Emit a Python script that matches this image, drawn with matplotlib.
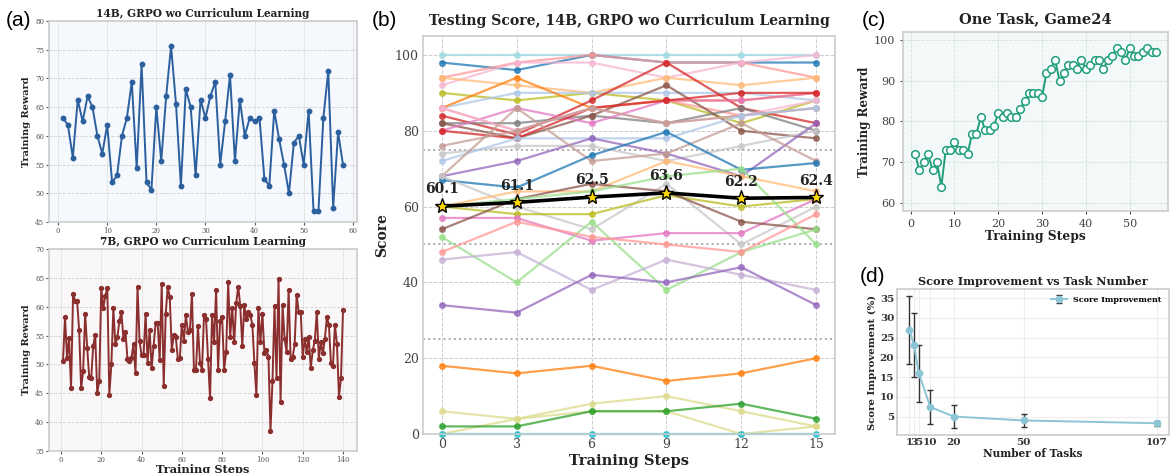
import numpy as np
import matplotlib.pyplot as plt

W, H = 1170, 473

# ---- panel (a) data ----
steps_14b = np.arange(1, 59)
reward_14b = [63.1, 61.9, 56.2, 66.3, 62.5, 66.9, 65.0, 60.0, 56.9, 61.9,
              51.9, 53.1, 60.0, 63.1, 69.4, 54.4, 72.5, 51.9, 50.6, 65.0,
              55.6, 66.9, 75.6, 65.6, 51.3, 68.1, 65.0, 53.1, 66.3, 63.1,
              66.9, 69.4, 55.0, 62.5, 70.6, 55.6, 66.3, 60.0, 63.1, 62.5,
              63.1, 52.5, 51.3, 64.4, 59.4, 55.0, 50.0, 58.8, 60.0, 55.0,
              64.4, 46.9, 46.9, 63.1, 71.3, 47.5, 60.6, 55.0]

steps_7b = np.arange(1, 141)
reward_7b = [50.6, 58.2, 51.2, 54.5, 45.9, 62.2, 61.0, 61.0, 56.0, 45.9,
             48.8, 58.8, 52.9, 47.9, 47.6, 53.2, 55.1, 45.0, 47.2, 63.2,
             59.7, 61.9, 63.2, 44.7, 50.0, 59.7, 53.5, 54.7, 57.6, 59.1,
             54.4, 55.7, 51.0, 50.6, 51.2, 53.5, 48.5, 63.5, 54.1, 51.6,
             51.6, 58.8, 50.3, 56.0, 49.4, 53.2, 57.2, 57.2, 50.7, 63.9,
             46.3, 58.8, 63.5, 61.6, 52.5, 55.1, 54.7, 51.0, 51.2, 56.9,
             54.1, 58.5, 55.7, 56.0, 62.2, 49.1, 49.1, 56.6, 50.3, 49.1,
             58.5, 57.9, 51.0, 44.1, 58.5, 53.8, 62.9, 49.1, 57.6, 58.2,
             49.1, 52.2, 64.2, 54.7, 59.8, 53.8, 60.7, 63.5, 60.1, 53.2,
             60.3, 57.9, 59.1, 58.5, 56.9, 50.3, 44.7, 59.8, 53.8, 58.8,
             51.9, 52.5, 51.3, 38.5, 47.2, 60.1, 47.6, 64.8, 43.5, 60.3,
             54.4, 52.2, 62.9, 51.0, 51.3, 53.5, 62.0, 59.1, 59.1, 51.3,
             54.4, 52.2, 54.7, 49.4, 52.5, 54.1, 59.1, 51.0, 53.8, 51.9,
             54.4, 58.2, 56.9, 50.3, 49.7, 56.9, 53.5, 44.4, 47.6, 59.4]

# ---- panel (b) data ----
test_steps = [0, 3, 6, 9, 12, 15]
task_colors = ["lcyan", "blue", "lred", "lpink", "olive", "lorange", "lblue",
               "orange", "lred", "red", "gray", "brown", "pink", "red",
               "lpink", "lbrown", "lgray", "lblue", "purple", "lbrown", "blue",
               "lgray", "lorange", "olive", "pink", "brown", "lgreen",
               "lgreen", "lred", "lpurple", "purple", "orange", "lolive",
               "lolive", "green", "cyan"]
task_scores = [
    [100, 100, 100, 100, 100, 100],
    [98, 96, 100, 98, 98, 98],
    [94, 98, 100, 98, 98, 94],
    [92, 98, 98, 94, 98, 100],
    [90, 88, 90, 88, 82, 88],
    [94, 92, 90, 94, 92, 94],
    [86, 90, 90, 90, 90, 88],
    [86, 94, 86, 88, 88, 90],
    [86, 80, 86, 88, 84, 86],
    [84, 79, 88, 98, 86, 82],
    [82, 82, 84, 82, 86, 80],
    [82, 78, 84, 92, 80, 78],
    [80, 86, 82, 88, 88, 90],
    [80, 78, 86, 88, 90, 90],
    [86, 80, 86, 82, 84, 88],
    [76, 80, 86, 82, 84, 86],
    [74, 76, 76, 72, 76, 80],
    [72, 78, 78, 78, 84, 86],
    [68, 72, 78, 74, 68, 82],
    [68, 86, 72, 74, 82, 72],
    [67, 65, 73.5, 79.7, 69.7, 71.5],
    [68, 60, 54, 66, 50, 60],
    [60, 64, 64, 72, 68, 64],
    [60, 58, 58, 63, 60, 62],
    [57, 57, 51, 53, 53, 62],
    [54, 62, 66, 64, 56, 54],
    [52, 40, 56, 38, 48, 54],
    [60, 62, 64, 68, 70, 50],
    [48, 56, 52, 50, 48, 58],
    [46, 48, 38, 46, 42, 38],
    [34, 32, 42, 40, 44, 34],
    [18, 16, 18, 14, 16, 20],
    [6, 4, 8, 10, 6, 2],
    [0, 4, 6, 6, 0, 2],
    [2, 2, 6, 6, 8, 4],
    [0, 0, 0, 0, 0, 0],
]
mean_scores = [60.1, 61.1, 62.5, 63.6, 62.2, 62.4]

tab20 = {"blue": "#1f77b4", "lblue": "#aec7e8", "orange": "#ff7f0e",
         "lorange": "#ffbb78", "green": "#2ca02c", "lgreen": "#98df8a",
         "red": "#d62728", "lred": "#ff9896", "purple": "#9467bd",
         "lpurple": "#c5b0d5", "brown": "#8c564b", "lbrown": "#c49c94",
         "pink": "#e377c2", "lpink": "#f7b6d2", "gray": "#7f7f7f",
         "lgray": "#c7c7c7", "olive": "#bcbd22", "lolive": "#dbdb8d",
         "cyan": "#17becf", "lcyan": "#9edae5"}

# ---- panel (c) data ----
game24_steps = np.arange(1, 57)
game24_reward = [72, 68, 70, 72, 68, 70, 64, 73, 73, 75, 73, 73, 72, 77, 77,
                 81, 78, 78, 79, 82, 81, 82, 81, 81, 83, 85, 87, 87, 87, 86,
                 92, 93, 95, 90, 92, 94, 94, 93, 95, 93, 94, 95, 95, 93, 95,
                 96, 98, 97, 95, 98, 96, 96, 97, 98, 97, 97]

# ---- panel (d) data ----
n_tasks = [1, 3, 5, 10, 20, 50, 107]
improvement = [27.0, 23.1, 16.0, 7.4, 5.0, 4.0, 3.3]
improvement_err = [8.6, 8.1, 7.2, 4.2, 3.0, 1.6, 0.6]

plt.rcParams['font.family'] = 'DejaVu Serif'
serif_bold = dict(fontweight='bold', color='#222222')


def px_axes(fig, l, t, r, b):
    return fig.add_axes([l / W, 1 - b / H, (r - l) / W, (b - t) / H])


def style_spines(ax, color='#cccccc', lw=1.2):
    for s in ax.spines.values():
        s.set_color(color)
        s.set_linewidth(lw)


fig = plt.figure(figsize=(W / 100, H / 100), dpi=100)

# ---------- (a) top ----------
ax1 = px_axes(fig, 49, 21, 357, 222)
ax1.set_facecolor('#f5f8fc')
ax1.plot(steps_14b, reward_14b, color='#2b5f9e', lw=1.4, marker='o', ms=3.2)
ax1.set_ylim(45, 80)
ax1.set_yticks(range(45, 81, 5))
ax1.set_xticks(range(0, 61, 10))
ax1.grid(True, axis='y', ls='--', color='#d0d0d0', lw=0.6)
ax1.grid(True, axis='x', ls='-', color='#e2e2e2', lw=0.6)
ax1.tick_params(labelsize=5, colors='#555555', length=2, pad=1.5)
ax1.set_title("14B, GRPO wo Curriculum Learning", fontsize=7.6, pad=3, **serif_bold)
ax1.set_ylabel("Training Reward", fontsize=7, labelpad=3, **serif_bold)
style_spines(ax1)

# ---------- (a) bottom ----------
ax2 = px_axes(fig, 49, 249, 357, 451)
ax2.set_facecolor('#faf7f8')
ax2.plot(steps_7b, reward_7b, color='#8b2e2e', lw=1.4, marker='o', ms=2.8)
ax2.set_ylim(35, 70)
ax2.set_yticks(range(35, 71, 5))
ax2.set_xticks(range(0, 141, 20))
ax2.grid(True, axis='y', ls='--', color='#d0d0d0', lw=0.6)
ax2.grid(True, axis='x', ls='-', color='#e2e2e2', lw=0.6)
ax2.tick_params(labelsize=5, colors='#555555', length=2, pad=1.5)
ax2.set_title("7B, GRPO wo Curriculum Learning", fontsize=7.6, pad=3, **serif_bold)
ax2.set_ylabel("Training Reward", fontsize=7, labelpad=3, **serif_bold)
ax2.set_xlabel("Training Steps", fontsize=8.2, labelpad=0, **serif_bold)
style_spines(ax2)

# ---------- (b) ----------
ax3 = px_axes(fig, 423, 36, 835, 434)
for cname, vals in zip(task_colors, task_scores):
    ax3.plot(test_steps, vals, color=tab20[cname], lw=1.6, alpha=0.75,
             marker='o', ms=4, clip_on=False)
for yv in (25, 50, 75):
    ax3.axhline(yv, color='#aaaaaa', ls=':', lw=1.4, zorder=1)
ax3.plot(test_steps, mean_scores, color='black', lw=2.6, marker='*', ms=11,
         mfc='#ffd700', mec='black', mew=1.0, zorder=10)
for xs, m in zip(test_steps, mean_scores):
    ax3.annotate(f"{m:.1f}", (xs, m), xytext=(0, 7), textcoords='offset points',
                 ha='center', va='bottom', fontsize=10, zorder=11, **serif_bold)
ax3.set_xlim(-0.75, 15.75)
ax3.set_ylim(0, 105)
ax3.set_xticks(test_steps)
ax3.set_yticks(range(0, 101, 20))
ax3.grid(True, ls='--', color='#cccccc', lw=0.7)
ax3.set_axisbelow(True)
ax3.tick_params(labelsize=9, colors='#444444', length=0, pad=3)
ax3.set_title("Testing Score, 14B, GRPO wo Curriculum Learning", fontsize=10.1,
              pad=8, **serif_bold)
ax3.set_ylabel("Score", fontsize=10, **serif_bold)
ax3.set_xlabel("Training Steps", fontsize=10.5, labelpad=2, **serif_bold)
style_spines(ax3)

# ---------- (c) ----------
ax4 = px_axes(fig, 903, 32, 1168, 211)
ax4.set_facecolor('#f3f9f9')
ax4.plot(game24_steps, game24_reward, color='#1f9e7a', lw=1.4, marker='o',
         ms=5.5, mfc='white', mec='#1f9e7a', mew=1.1)
ax4.set_ylim(58, 102)
ax4.set_yticks(range(60, 101, 10))
ax4.set_xticks(range(0, 51, 10))
ax4.grid(True, ls='--', color='#d6dede', lw=0.6)
ax4.tick_params(labelsize=8, colors='#444444', length=2)
ax4.set_title("One Task, Game24", fontsize=10.5, pad=6, **serif_bold)
ax4.set_ylabel("Training Reward", fontsize=8.6, labelpad=2, **serif_bold)
ax4.set_xlabel("Training Steps", fontsize=8.8, labelpad=1, **serif_bold)
style_spines(ax4)

# ---------- (d) ----------
ax5 = px_axes(fig, 897, 289, 1169, 435)
ax5.errorbar(n_tasks, improvement, yerr=improvement_err, color='#8cc6d6',
             lw=1.4, marker='o', ms=4.5, ecolor='#333333', elinewidth=1.0,
             capsize=2.5, capthick=1.0, label='Score Improvement')
ax5.set_xticks(n_tasks)
ax5.set_xticklabels([str(n) for n in n_tasks])
ax5.set_yticks(range(5, 36, 5))
ax5.grid(True, ls='-', color='#eeeeee', lw=0.8)
ax5.set_axisbelow(True)
ax5.tick_params(labelsize=7.5, colors='#333333', length=0, pad=2)
for lab in ax5.get_xticklabels() + ax5.get_yticklabels():
    lab.set_fontweight('bold')
ax5.set_title("Score Improvement vs Task Number", fontsize=8.1, pad=3, **serif_bold)
ax5.set_ylabel("Score Improvement (%)", fontsize=7.3, labelpad=2, **serif_bold)
ax5.set_xlabel("Number of Tasks", fontsize=7.6, labelpad=1, **serif_bold)
leg = ax5.legend(loc='upper right', frameon=False,
                 prop={'weight': 'bold', 'size': 5.8})
style_spines(ax5)

# panel letters
for txt, x, y in [("(a)", 6, 20), ("(b)", 372, 20), ("(c)", 862, 20),
                  ("(d)", 860, 276)]:
    fig.text(x / W, 1 - y / H, txt, fontsize=15, family='Liberation Sans',
             va='center', ha='left')

fig.savefig("out.png", dpi=100)
